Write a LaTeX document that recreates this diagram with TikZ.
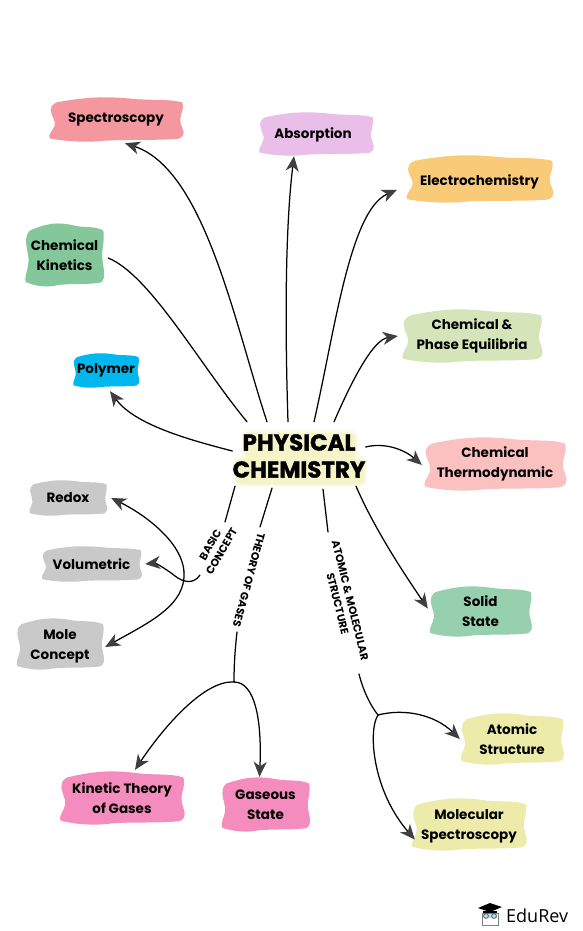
\documentclass[tikz,border=0pt]{standalone}
\usepackage{fontspec}
\setmainfont{Poppins}
\newfontfamily\logofont{Open Sans}
\newfontfamily\hubfont{Poppins}[BoldFeatures={FakeBold=1.5}]
\usetikzlibrary{arrows.meta}
\definecolor{cspec}{HTML}{F4979E}
\definecolor{cabs}{HTML}{E9BFEA}
\definecolor{cele}{HTML}{F9CB79}
\definecolor{ckin}{HTML}{83C79A}
\definecolor{cpha}{HTML}{D5E5B9}
\definecolor{cpol}{HTML}{00B8EE}
\definecolor{ctherm}{HTML}{FBC1C1}
\definecolor{csol}{HTML}{97D0AE}
\definecolor{cgrey}{HTML}{C9C9C9}
\definecolor{cyel}{HTML}{EDEBA9}
\definecolor{cpink}{HTML}{F48DBE}
\definecolor{chalo}{HTML}{F1F2B4}
\definecolor{ctip}{HTML}{3F3F3F}
\newcommand{\blobnode}[8][]{%
  \pgfmathsetmacro{\bw}{#5-#3}\pgfmathsetmacro{\bh}{#6-#4}%
  \pgfmathsetmacro{\bcx}{(#3+#5)/2}\pgfmathsetmacro{\bcy}{(#4+#6)/2}%
  \begin{scope}[shift={(#3,#4)},x=\bw pt,y=-\bh pt]
    \fill[#7] (0.07,0.12) .. controls (0.28,0.0) and (0.42,-0.02) .. (0.62,0.04)
      .. controls (0.75,0.08) and (0.88,0.04) .. (0.98,0.12)
      .. controls (1.0,0.3) and (0.95,0.42) .. (0.97,0.6)
      .. controls (0.98,0.72) and (1.02,0.85) .. (0.95,0.93)
      .. controls (0.75,0.97) and (0.62,0.94) .. (0.42,0.97)
      .. controls (0.28,1.02) and (0.12,0.98) .. (0.02,0.92)
      .. controls (0.0,0.8) and (0.08,0.68) .. (0.05,0.5)
      .. controls (0.03,0.35) and (0.0,0.22) .. (0.07,0.12) -- cycle;
  \end{scope}
  \node[txt,minimum width=\bw pt,minimum height=\bh pt,#1] (#2) at (\bcx,\bcy) {#8};%
}
\tikzset{
  txt/.style={rectangle,inner sep=0pt,align=center,font=\bfseries\fontsize{13.5}{20}\selectfont,text=black},
  lab/.style={rectangle,inner sep=0pt,align=center,font=\bfseries\fontsize{10.8}{13}\selectfont,text=black},
  link/.style={line width=1.25pt,black,line cap=round},
  arr/.style={link,-{Stealth[length=15pt,width=13pt,inset=4.5pt,color=ctip]}},
}
\begin{document}
\begin{tikzpicture}[x=1pt,y=-1pt]
\useasboundingbox (0,0) rectangle (582,931);
\fill[white] (0,0) rectangle (582,931);
% halo behind title
\foreach \o/\e in {0.2/3,0.3/1.5,0.5/0}{
  \fill[chalo,opacity=\o,rounded corners=6pt] (244-\e,433-\e) rectangle (355+\e,457+\e);
  \fill[chalo,opacity=\o,rounded corners=6pt] (236-\e,459-\e) rectangle (364+\e,484+\e);
}
\blobnode{spec}{47}{97}{185}{142}{cspec}{Spectroscopy}
\blobnode[xshift=-3pt,yshift=-1pt]{abso}{257}{112}{375}{156}{cabs}{Absorption}
\blobnode[yshift=-3pt]{elec}{404}{155}{555}{203}{cele}{Electrochemistry}
\blobnode{kine}{24}{223}{105}{287}{ckin}{Chemical\\Kinetics}
\blobnode{phas}{400}{309}{544}{363}{cpha}{Chemical \&\\Phase Equilibria}
\blobnode{poly}{72}{353}{140}{388}{cpol}{Polymer}
\blobnode{ther}{422}{437}{568}{491}{ctherm}{Chemical\\Thermodynamic}
\blobnode{soli}{428}{586}{533}{637}{csol}{Solid\\State}
\blobnode{redo}{28}{480}{108}{516}{cgrey}{Redox}
\blobnode{volu}{40}{546}{143}{582}{cgrey}{Volumetric}
\blobnode[yshift=-2pt]{mole}{15}{618}{105}{670}{cgrey}{Mole\\Concept}
\blobnode{atom}{459}{713}{565}{765}{cyel}{Atomic\\Structure}
\blobnode[yshift=-2pt]{mols}{410}{798}{528}{851}{cyel}{Molecular\\Spectroscopy}
\blobnode{kint}{58}{771}{186}{825}{cpink}{Kinetic Theory\\of Gases}
\blobnode{gase}{220}{777}{311}{832}{cpink}{Gaseous\\State}
\node[rectangle,inner sep=0pt,minimum width=132pt,minimum height=68pt,align=center,
  font=\hubfont\bfseries\fontsize{23}{27}\selectfont] (hub) at (299,456) {PHYSICAL\\CHEMISTRY};
% rotated labels
\node[lab,rotate=60] (lbasic) at (216,548) {BASIC\\CONCEPT};
\node[lab,rotate=-105] (ltheory) at (249,580) {THEORY OF GASES};
\node[lab,rotate=-76] (latom) at (344,602) {ATOMIC \& MOLECULAR\\STRUCTURE};
% junction and break points
\coordinate (bc1) at (225,522);
\coordinate (bc2) at (200,575);
\coordinate (th1) at (260,527);
\coordinate (th2) at (237,632);
\coordinate (jt) at (234,682);
\coordinate (at1) at (328,532);
\coordinate (at2) at (359,674);
\coordinate (ja) at (378,715);
\coordinate (cross) at (184,572);
% connectors from hub
\draw[arr] ([xshift=-32pt]hub.north) .. controls (235,325) and (205,170) .. ([xshift=9pt,yshift=-1pt]spec.south);
\draw[link] ([xshift=-52pt]hub.north) .. controls (200,365) and (150,275) .. ([xshift=3pt,yshift=-3pt]kine.east);
\draw[arr] ([xshift=-11pt]hub.north) .. controls (285,330) and (285,230) .. ([xshift=-19pt,yshift=1pt]abso.south);
\draw[arr] ([xshift=15pt]hub.north) .. controls (335,330) and (350,210) .. ([xshift=-7pt,yshift=-8pt]elec.west);
\draw[arr] ([xshift=35pt]hub.north) .. controls (350,385) and (372,340) .. ([xshift=-2pt]phas.west);
\draw[arr] ([yshift=5pt]hub.west) .. controls (190,440) and (135,425) .. ([xshift=4pt,yshift=-3pt]poly.south);
\draw[arr] ([yshift=9pt]hub.east) .. controls (385,442) and (405,450) .. ([yshift=-1pt]ther.west);
\draw[arr] ([xshift=57pt,yshift=4pt]hub.south) .. controls (375,530) and (405,575) .. ([yshift=3pt]soli.west);
\draw[link] ([xshift=-64pt,yshift=4pt]hub.south) -- (bc1);
\draw[link] ([xshift=-27pt,yshift=2pt]hub.south) -- (th1);
\draw[link] ([xshift=24pt,yshift=1pt]hub.south) -- (at1);
\draw[link] (th2) .. controls (235,650) and (234,665) .. (jt);
\draw[link] (at2) .. controls (363,690) and (370,705) .. (ja);
% basic concept branches
\draw[arr] (bc2) .. controls (194,584) and (184,583) .. (175,576) .. controls (165,568) and (155,563) .. ([xshift=2pt]volu.east);
\draw[arr] (cross) .. controls (182,540) and (140,512) .. ([xshift=3pt]redo.east);
\draw[arr] (cross) .. controls (186,605) and (150,622) .. ([yshift=-1pt]mole.east);
% theory of gases branches
\draw[arr] (jt) .. controls (205,680) and (165,725) .. ([xshift=13pt,yshift=1pt]kint.north);
\draw[arr] (jt) .. controls (255,682) and (262,720) .. ([xshift=-6pt]gase.north);
% atomic structure branches
\draw[arr] (ja) .. controls (405,708) and (435,715) .. ([xshift=1pt]atom.west);
\draw[arr] (ja) .. controls (368,730) and (372,790) .. ([yshift=-13pt,xshift=5pt]mols.west);
% logo
\node[rectangle,inner sep=0pt,anchor=west,font=\logofont\fontsize{18}{20}\selectfont] (edurev) at (506,916) {EduRev};
\fill[black] (478,908) -- (490,903) -- (502,907) -- (490,912) -- cycle;
\fill[black] (483,911) -- (497,911) -- (497,913) -- (483,913) -- cycle;
\draw[gray,line width=0.8pt] (482,913) rectangle (498,925);
\fill[cyan!30] (483,914) rectangle (497,918);
\draw[black!70,line width=0.7pt] (486,916) circle (2.4pt) (494,916) circle (2.4pt);
\end{tikzpicture}
\end{document}
